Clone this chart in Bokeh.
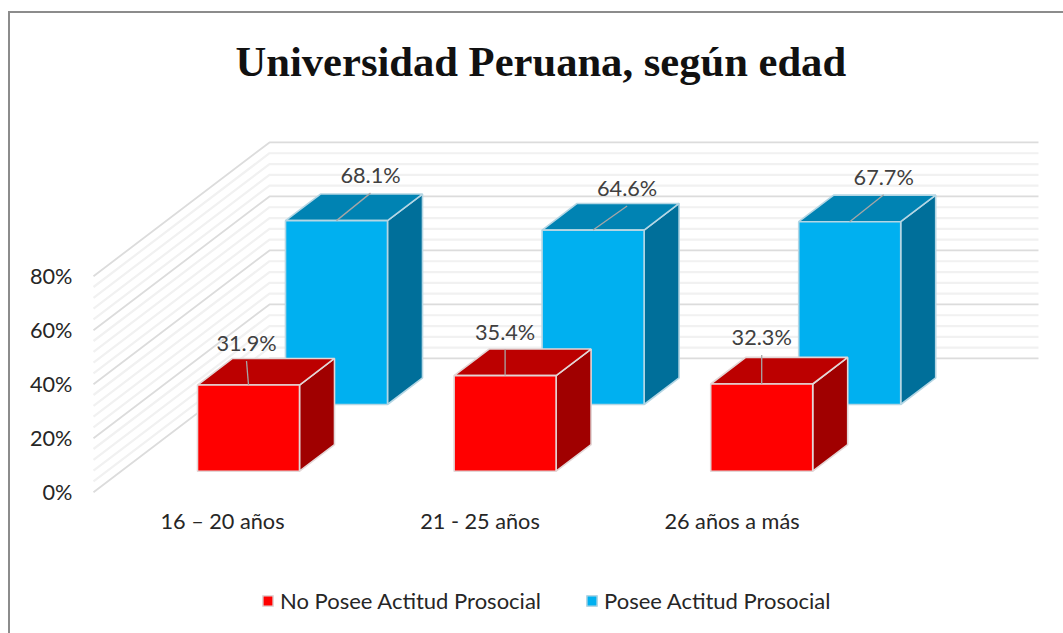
from bokeh.plotting import figure
from bokeh.embed import file_html
from bokeh.resources import INLINE
from bokeh.models import Range1d, FixedTicker, Legend, LegendItem
from bokeh.core.properties import value

# ---- data ----
title_text = "Universidad Peruana, según edad"
categories = ["16 – 20 años", "21 - 25 años", "26 años a más"]
series_names = ["No Posee Actitud Prosocial", "Posee Actitud Prosocial"]
no_posee = [31.9, 35.4, 32.3]
posee = [68.1, 64.6, 67.7]
y_ticks = [0, 20, 40, 60, 80]

# ---- layout (page pixels on x, percent on y) ----
MARGIN_L, MARGIN_T, BORDER = 8, 11, 2
FIG_L, FIG_T = MARGIN_L + BORDER, MARGIN_T + BORDER
FIG_W, FIG_H = 1063 - FIG_L, 633 - FIG_T
FRAME_L, FRAME_T, FRAME_B = 78, 100, 633
AXIS_Y = 505
PX_PER_PCT = 2.7
ZERO_Y = 491.7
LEAN = 0.76 / PX_PER_PCT          # percent climbed per x pixel of depth
WALL_X0, WALL_DEPTH, WALL_X1 = 93, 176, 1038
GROUP_STEP = 256.6
BAR_W = 102
BAR_DEPTH = 35
SERIES_X = [197, 285]
SERIES_LIFT = [(ZERO_Y - 470.7) / PX_PER_PCT, (ZERO_Y - 404.0) / PX_PER_PCT]
tick_x = [222, 479.5, 731.5]
leader_dx = [[-2, 0, 0], [34, 34, 34]]
leader_dy = [[24, 26, 29], [27.5, 24, 27]]
FONT_SIZE = "21.7px"

p = figure(width=FIG_W, height=FIG_H,
           frame_width=FIG_L + FIG_W - FRAME_L, frame_height=FRAME_B - FRAME_T,
           output_backend="svg", toolbar_location=None,
           x_range=Range1d(FRAME_L, FIG_L + FIG_W),
           y_range=Range1d((ZERO_Y - FRAME_B) / PX_PER_PCT, (ZERO_Y - FRAME_T) / PX_PER_PCT),
           min_border_left=FRAME_L - FIG_L, min_border_right=0,
           min_border_top=FRAME_T - FIG_T, min_border_bottom=0,
           outline_line_color=None, background_fill_color="white", border_fill_color="white",
           margin=(MARGIN_T, 0, 0, MARGIN_L),
           styles={"border-top": f"{BORDER}px solid #8c8c8c", "border-left": f"{BORDER}px solid #8c8c8c"})
p.grid.visible = False

# title
p.title.text = title_text
p.title.text_font = "Liberation Serif"
p.title.text_font_style = "bold"
p.title.text_font_size = "42.6px"
p.title.text_color = "#111111"
p.title.align = "left"
p.title.offset = 235 - FRAME_L
p.title.standoff = 32

# axes
for ax in (p.yaxis, p.xaxis):
    ax.axis_line_color = None
    ax.major_tick_line_color = None
    ax.minor_tick_line_color = None
    ax.major_tick_out = 0
    ax.major_label_text_font = "Lato"
    ax.major_label_text_font_size = FONT_SIZE
    ax.major_label_text_color = "#262626"
p.yaxis.ticker = FixedTicker(ticks=y_ticks)
p.yaxis.major_label_overrides = {t: f"{t}%" for t in y_ticks}
p.yaxis.major_label_standoff = 6
p.xaxis.ticker = FixedTicker(ticks=tick_x)
p.xaxis.major_label_overrides = dict(zip(tick_x, categories))
p.xaxis.major_label_standoff = 2
p.xaxis.fixed_location = (ZERO_Y - AXIS_Y) / PX_PER_PCT

# walls
minor_levels = [v for v in range(0, y_ticks[-1] + 1, 4) if v not in y_ticks]
for levels, col, lw in ((minor_levels, "#f1f1f1", 2.2), (y_ticks, "#dcdcdc", 1.8)):
    xs, ys = [], []
    for v in levels:
        back = v + WALL_DEPTH * LEAN
        xs.append([WALL_X0, WALL_X0 + WALL_DEPTH, WALL_X1])
        ys.append([v, back, back])
    p.multi_line(xs, ys, line_color=col, line_width=lw)


def box(x0, lift, val):
    """three faces of a bar whose front-left-bottom sits at x0 and lift (%)"""
    d = BAR_DEPTH * LEAN
    x1 = x0 + BAR_W
    top = lift + val
    front = ([x0, x1, x1, x0], [lift, lift, top, top])
    roof = ([x0, x1, x1 + BAR_DEPTH, x0 + BAR_DEPTH], [top, top, top + d, top + d])
    side = ([x1, x1 + BAR_DEPTH, x1 + BAR_DEPTH, x1], [lift, lift + d, top + d, top])
    return front, roof, side


series = [
    (no_posee, SERIES_X[0], SERIES_LIFT[0], "#FF0000", "#BC0000", "#A00000", "#e3d6d6"),
    (posee, SERIES_X[1], SERIES_LIFT[1], "#00B0F0", "#0083B3", "#006F9A", "#b4d6e4"),
]

legend_items = []
for idx in (1, 0):
    vals, x_start, lift, c_front, c_top, c_side, c_edge = series[idx]
    fx, fy, tx, ty, sx, sy = [], [], [], [], [], []
    for i, v in enumerate(vals):
        f, t, s = box(x_start + GROUP_STEP * i, lift, v)
        fx.append(f[0]); fy.append(f[1]); tx.append(t[0]); ty.append(t[1]); sx.append(s[0]); sy.append(s[1])
    p.patches(sx, sy, fill_color=c_side, line_color=c_edge, line_width=1.6)
    p.patches(tx, ty, fill_color=c_top, line_color=c_edge, line_width=1.6)
    r = p.quad(left=[x[0] for x in fx], right=[x[1] for x in fx],
               bottom=[y[0] for y in fy], top=[y[2] for y in fy],
               fill_color=c_front, line_color=c_edge, line_width=1.6)
    legend_items.append(LegendItem(label=series_names[idx], renderers=[r]))

    # leaders and labels
    lx, ly, tx2, ty2, lab = [], [], [], [], []
    for i, v in enumerate(vals):
        cx = x_start + GROUP_STEP * i + BAR_W / 2
        top = lift + v
        ex = cx + leader_dx[idx][i]
        ey = top + leader_dy[idx][i] / PX_PER_PCT
        lx.append([cx, ex]); ly.append([top, ey])
        tx2.append(ex); ty2.append(ey + 18 / PX_PER_PCT); lab.append(f"{v}%")
    p.multi_line(lx, ly, line_color="#a6a6a6", line_width=1.3)
    p.text(tx2, ty2, text=lab, text_font=value("Lato"), text_font_size=FONT_SIZE, text_color="#404040",
           text_align="center", text_baseline="middle")

legend = Legend(items=legend_items[::-1], orientation="horizontal", location=(261 - FRAME_L, FRAME_B - 614),
                border_line_color=None, background_fill_alpha=0,
                label_text_font="Lato", label_text_font_size="22px", label_text_color="#262626",
                glyph_width=13, glyph_height=13, label_standoff=6, spacing=44, margin=0, padding=0)
p.add_layout(legend)

open("out.html", "w").write(file_html(p, INLINE))
